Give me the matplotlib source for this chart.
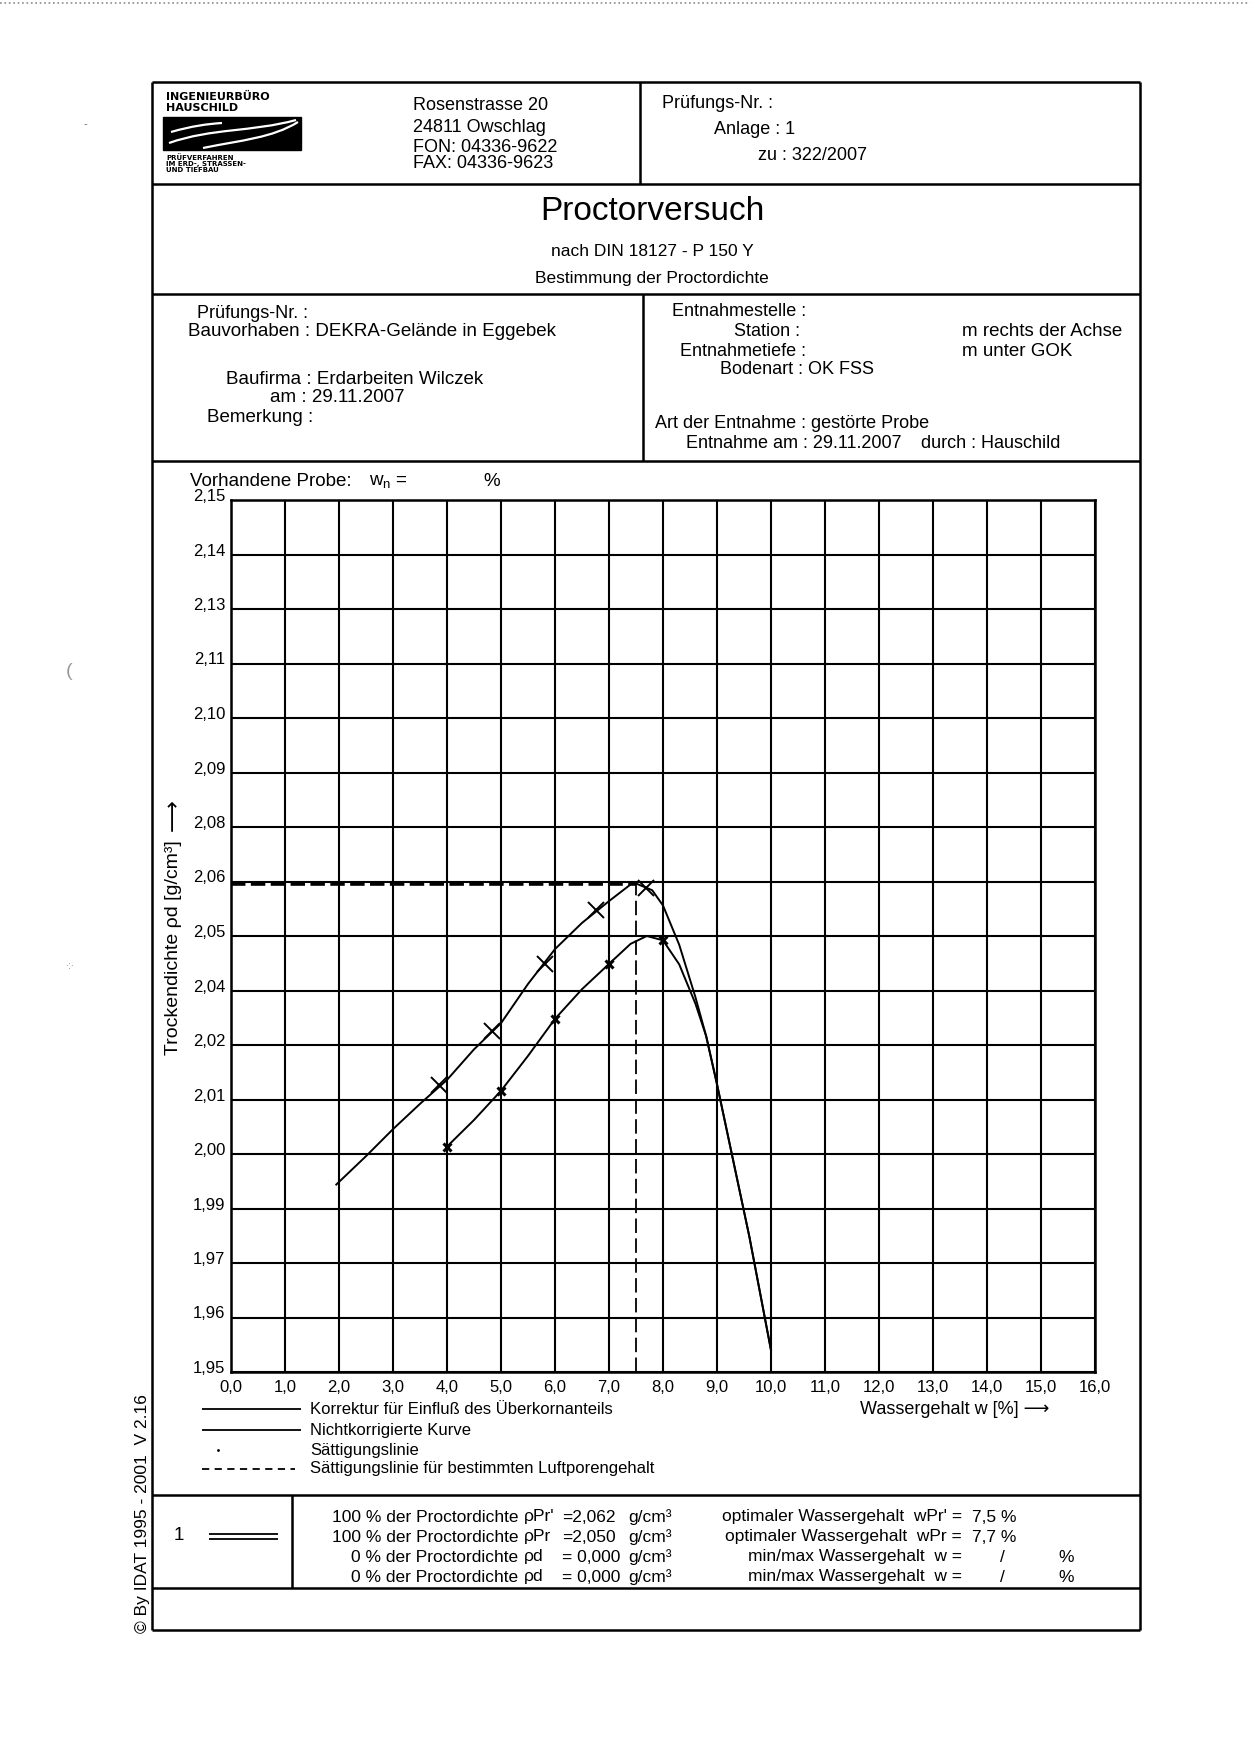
import numpy as np
import matplotlib.pyplot as plt
from matplotlib.path import Path
from matplotlib.patches import PathPatch, Rectangle
from matplotlib.transforms import ScaledTranslation

plt.rcParams['font.family'] = ['Liberation Sans', 'DejaVu Sans']

# Achsenteilung
w_ticks = list(range(17))
w_labels = ['0,0', '1,0', '2,0', '3,0', '4,0', '5,0', '6,0', '7,0', '8,0',
            '9,0', '10,0', '11,0', '12,0', '13,0', '14,0', '15,0', '16,0']
rho_ticks = np.linspace(1.95, 2.15, 17)
rho_labels = ['1,95', '1,96', '1,97', '1,99', '2,00', '2,01', '2,02', '2,04',
              '2,05', '2,06', '2,08', '2,09', '2,10', '2,11', '2,13', '2,14',
              '2,15']

# Korrektur fuer Einfluss des Ueberkornanteils (Kurve + Messpunkte)
w_korr = [1.95, 2.5, 3.0, 3.5, 4.0, 4.5, 5.0, 5.5, 6.0, 6.5, 7.0, 7.45,
          7.8, 8.0, 8.3, 8.6, 8.8, 9.0, 9.6, 10.0]
rho_korr = [1.993, 1.9995, 2.0057, 2.0115, 2.017, 2.024, 2.030, 2.039,
            2.047, 2.053, 2.058, 2.0623, 2.0605, 2.057, 2.048, 2.036,
            2.027, 2.016, 1.981, 1.955]
w_korr_pkt = [3.86, 4.83, 5.81, 6.76, 7.69]
rho_korr_pkt = [2.0159, 2.0282, 2.0436, 2.0560, 2.0610]

# Nichtkorrigierte Kurve
w_nk = [4.0, 4.5, 5.0, 5.5, 6.0, 6.5, 7.0, 7.4, 7.7, 8.0, 8.3, 8.6,
        8.8, 9.0, 9.6, 10.0]
rho_nk = [2.0017, 2.0078, 2.0145, 2.0225, 2.031, 2.0378, 2.0436, 2.0482,
          2.050, 2.049, 2.0435, 2.0345, 2.027, 2.016, 1.981, 1.955]
w_nk_pkt = [4.0, 5.0, 6.0, 7.0, 8.0]
rho_nk_pkt = [2.0017, 2.0145, 2.0310, 2.0436, 2.0490]

# Proctorwerte
w_opt = 7.5
rho_max = 2.062

fig = plt.figure(figsize=(12.5, 17.62), dpi=100)

# Hintergrund in Pixelkoordinaten fuer Formular
bg = fig.add_axes([0, 0, 1, 1])
bg.set_xlim(0, 1250)
bg.set_ylim(1762, 0)
bg.axis('off')


def hline(y, x0=152, x1=1140, lw=1.8):
    bg.plot([x0, x1], [y, y], color='k', lw=lw, solid_capstyle='butt')


def vline(x, y0, y1, lw=1.8):
    bg.plot([x, x], [y0, y1], color='k', lw=lw, solid_capstyle='butt')


def txt(x, y, s, size=13, ha='left', **kw):
    bg.text(x, y, s, fontsize=size, ha=ha, va='center', **kw)


# Scan-Rand oben
bg.plot([0, 1250], [3, 3], color='0.55', lw=1.2, ls=':')

# Rahmen
hline(82)
hline(184)
hline(294)
hline(461)
hline(1495)
hline(1588)
hline(1630)
vline(152, 82, 1630)
vline(1140, 82, 1630)
vline(640, 82, 184)
vline(643, 294, 461)
vline(292, 1495, 1588)

# Logo
txt(166, 97, 'INGENIEURBÜRO', size=8, weight='bold', family='DejaVu Sans')
txt(166, 108, 'HAUSCHILD', size=8, weight='bold', family='DejaVu Sans')
bg.add_patch(Rectangle((163, 117), 138, 33, color='k'))
for verts in ([(169, 143), (212, 128), (252, 132), (296, 120)],
              [(203, 148), (242, 140), (272, 138), (298, 122)],
              [(171, 132), (192, 126), (207, 124), (222, 123)]):
    bg.add_patch(PathPatch(Path(verts, [Path.MOVETO, Path.CURVE4,
                                        Path.CURVE4, Path.CURVE4]),
                           fc='none', ec='white', lw=1.6))
txt(166, 158, 'PRÜFVERFAHREN', size=5, weight='bold', family='DejaVu Sans')
txt(166, 164, 'IM ERD-, STRASSEN-', size=5, weight='bold',
    family='DejaVu Sans')
txt(166, 170, 'UND TIEFBAU', size=5, weight='bold', family='DejaVu Sans')

# Kopf
txt(413, 105, 'Rosenstrasse 20')
txt(413, 127, '24811 Owschlag')
txt(413, 148, 'FON: 04336-9622')
txt(413, 163, 'FAX: 04336-9623')
txt(662, 103, 'Prüfungs-Nr. :')
txt(714, 130, 'Anlage : 1')
txt(758, 155, 'zu : 322/2007')

txt(652, 212, 'Proctorversuch', size=24, ha='center')
txt(652, 252, 'nach DIN 18127 - P 150 Y', size=12.5, ha='center')
txt(652, 278, 'Bestimmung der Proctordichte', size=12.5, ha='center')

# Angaben
txt(197, 313, 'Prüfungs-Nr. :')
txt(188, 332, 'Bauvorhaben : DEKRA-Gelände in Eggebek', size=13.5)
txt(226, 379, 'Baufirma : Erdarbeiten Wilczek', size=13.5)
txt(270, 398, 'am : 29.11.2007', size=13.5)
txt(207, 417, 'Bemerkung :', size=13.5)
txt(672, 312, 'Entnahmestelle :')
txt(734, 331, 'Station :')
txt(680, 351, 'Entnahmetiefe :')
txt(720, 370, 'Bodenart : OK FSS')
txt(655, 424, 'Art der Entnahme : gestörte Probe')
txt(686, 443, 'Entnahme am : 29.11.2007')
txt(921, 443, 'durch : Hauschild')
txt(962, 332, 'm rechts der Achse', size=13.5)
txt(962, 351, 'm unter GOK', size=13.5)

txt(190, 482, 'Vorhandene Probe:', size=13.5)
txt(369, 482, r'$\mathregular{w_n}$ =', size=13.5)
txt(483, 482, '%', size=13.5)

# Diagramm
ax = fig.add_axes([231 / 1250, 1 - 1372 / 1762, (1095 - 231) / 1250,
                   (1372 - 500) / 1762])
ax.set_xlim(0, 16)
ax.set_ylim(1.95, 2.15)
ax.set_xticks(w_ticks)
ax.set_xticklabels(w_labels)
ax.set_yticks(rho_ticks)
ax.set_yticklabels(rho_labels)
ax.grid(True, color='k', lw=1.5)
ax.tick_params(length=0, labelsize=12)
ax.tick_params(axis='x', pad=6)
ax.tick_params(axis='y', pad=4)
for lab in ax.get_yticklabels():
    lab.set_transform(lab.get_transform() +
                      ScaledTranslation(0, 5 / 100, fig.dpi_scale_trans))
for s in ax.spines.values():
    s.set_linewidth(1.8)

ax.plot([0, w_opt], [rho_max, rho_max], color='k', lw=2.6, dashes=(4, 1.5))
ax.plot([w_opt, w_opt], [1.95, rho_max], color='k', lw=1.3, dashes=(8, 3))
ax.plot(w_korr, rho_korr, color='k', lw=1.4)
ax.plot(w_nk, rho_nk, color='k', lw=1.4)
ax.plot(w_korr_pkt, rho_korr_pkt, 'x', color='k', ms=12, mew=1.4)
ax.plot(w_nk_pkt, rho_nk_pkt, 'x', color='k', ms=6, mew=2.2)

txt(173, 948, 'Trockendichte ρd [g/cm³]', size=14, ha='center',
    rotation=90)
txt(173, 815, '⟶', size=16, ha='center', rotation=90,
    family=['DejaVu Sans'])

# Legende
hline(1409, 202, 301, lw=1.3)
hline(1430, 202, 301, lw=1.3)
bg.plot([218], [1450], 'k.', ms=2)
bg.plot([202, 295], [1469, 1469], color='k', lw=1.3, dashes=(4, 3))
txt(310, 1409, 'Korrektur für Einfluß des Überkornanteils', size=12)
txt(310, 1430, 'Nichtkorrigierte Kurve', size=12)
txt(310, 1450, 'Sättigungslinie', size=12)
txt(310, 1469, 'Sättigungslinie für bestimmten Luftporengehalt', size=12)
txt(860, 1409, 'Wassergehalt w [%] ⟶', size=13,
    family=['Liberation Sans', 'DejaVu Sans'])

# Ergebnisse
txt(174, 1536, '1', size=13.5)
hline(1534, 209, 278, lw=1.3)
hline(1539, 209, 278, lw=1.3)
rows = [1517, 1537, 1557, 1577]
links = ['100 % der Proctordichte', '100 % der Proctordichte',
         '0 % der Proctordichte', '0 % der Proctordichte']
sym = ["ρPr'", 'ρPr', 'ρd', 'ρd']
wert = ['=2,062', '=2,050', '= 0,000', '= 0,000']
rechts = ["optimaler Wassergehalt  wPr' =", "optimaler Wassergehalt  wPr =",
          'min/max Wassergehalt  w =', 'min/max Wassergehalt  w =']
rwert = ['7,5 %', '7,7 %', '/', '/']
for y, a, b, c, d, e in zip(rows, links, sym, wert, rechts, rwert):
    txt(518, y, a, size=12.5, ha='right')
    txt(524, y, b, size=12.5)
    txt(562, y, c, size=12.5)
    txt(628, y, 'g/cm³', size=12.5)
    txt(962, y, d, size=12.5, ha='right')
    if e == '/':
        txt(1000, y, '/', size=12.5)
        txt(1058, y, '%', size=12.5)
    else:
        txt(972, y, e, size=12.5)

# Copyright am Rand
bg.text(142, 1633, '© By IDAT 1995 - 2001  V 2.16', fontsize=12.5,
        rotation=90, ha='center', va='bottom')

# Scan-Flecken
txt(84, 124, '-', size=8, color='0.4')
txt(66, 672, '(', size=14, color='0.6')
txt(66, 966, '·:·', size=7, color='0.5')

fig.savefig('out.png', dpi=100)
